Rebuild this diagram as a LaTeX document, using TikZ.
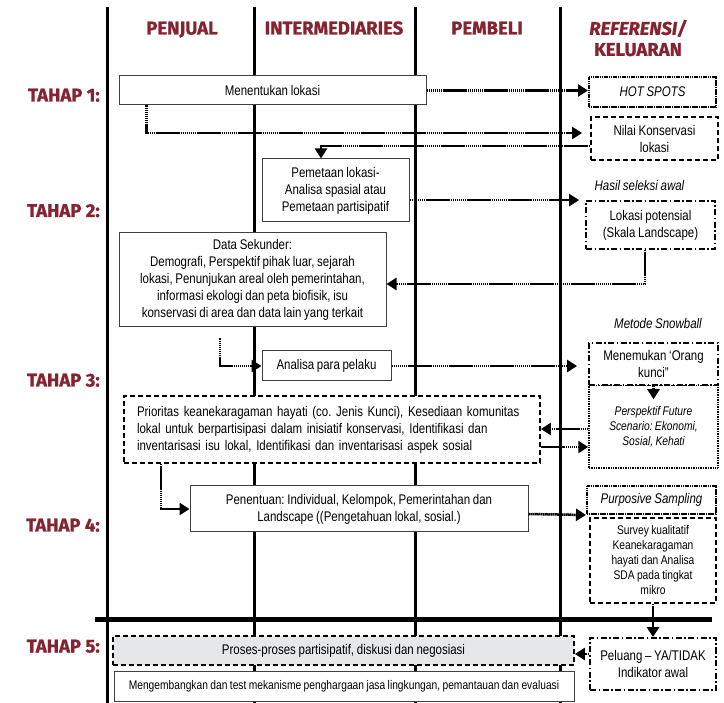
\documentclass[tikz,border=0pt]{standalone}
\usepackage{fontspec}
\setmainfont{Liberation Sans}[FakeStretch=0.82, WordSpace=0.85]
\newfontfamily\headfont{Fira Sans}[FakeBold=1]
\usetikzlibrary{calc, positioning, arrows.meta}
\definecolor{stagered}{HTML}{862330}
\definecolor{shade}{HTML}{E6E7E8}
\def\boxfont{\fontsize{14}{17}\selectfont}
\def\smallfont{\fontsize{12.5}{15}\selectfont}
\tikzstyle{lane}=[line width=3pt]
\tikzstyle{stage}=[font=\headfont\bfseries\fontsize{18.5}{21}\selectfont, text=stagered, inner sep=0pt]
\tikzstyle{note}=[font=\boxfont\itshape, inner sep=0pt]
\tikzstyle{box}=[draw=black!75, line width=1pt, fill=white, align=center, inner sep=0pt, font=\boxfont]
\tikzstyle{dotted box}=[box, draw=black, line width=2pt, dash pattern=on 1.3pt off 0.5pt]
\tikzstyle{fine box}=[box, draw=black, line width=1.5pt, dash pattern=on 1pt off 0.7pt]
\tikzstyle{dashed box}=[box, draw=black, line width=1.8pt, dash pattern=on 5pt off 3pt]
\tikzstyle{dashdot box}=[box, draw=black, line width=1.8pt, dash pattern=on 6pt off 2.5pt on 1.5pt off 2.5pt]
\tikzstyle{flow arrow}=[line width=2.5pt, dash pattern=on 1.6pt off 0.45pt, -{Triangle[length=10pt,width=12pt]}]

\begin{document}
\frenchspacing
\begin{tikzpicture}[x=1pt, y=-1pt]
\useasboundingbox (0,0) rectangle (724,703);

			% Draw the lane lines
			\foreach \x in {107,254,415,560}
			\draw[lane] (\x,7) -- (\x,703);
			\draw[line width=5pt] (95,620) -- (712,620);

			% Column headings
			\foreach \name/\x in {PENJUAL/182, INTERMEDIARIES/334, PEMBELI/487}
			\node[stage, anchor=base] (H-\name) at (\x,34.5) {\name};
			\node[stage, align=center] (H-REF) at (638,38) {\textit{REFERENSI/}\\KELUARAN};

			% Stage labels
			\foreach \n/\y in {1/101.5,2/217,3/386.5,4/531.5,5/652.5}
			\node[stage, anchor=base east] (T-\n) at (100,\y) {TAHAP \n:};

			% Stage 1
			\node[box, minimum width=307, minimum height=29] (loc) at (272.5,90.5) {Menentukan lokasi};
			\node[dotted box, minimum width=127, minimum height=30, font=\boxfont\itshape] (hot) at (652.5,92) {HOT SPOTS};
			\node[dashed box, minimum width=127, minimum height=43] (nilai) at (654.5,138.5) {Nilai Konservasi\\lokasi};

			% Stage 2
			\node[box, minimum width=147, minimum height=63] (pem) at (335.5,190.5) {Pemetaan lokasi-\\Analisa spasial atau\\Pemetaan partisipatif};
			\node[dashdot box, minimum width=129, minimum height=48] (pot) at (650.5,225) {Lokasi potensial\\(Skala Landscape)};
			\node[note, above=9pt of pot, xshift=-11pt] (hasil) {Hasil seleksi awal};
			\node[box, minimum width=267, minimum height=94] (dsek) at (252.5,280) {Data Sekunder:\\Demografi, Perspektif pihak luar, sejarah\\lokasi, Penunjukan areal oleh pemerintahan,\\informasi ekologi dan peta biofisik, isu\\konservasi di area dan data lain yang terkait};

			% Stage 3
			\node[box, minimum width=129, minimum height=30] (ana) at (326.5,366) {Analisa para pelaku};
			\node[fine box, minimum width=129, minimum height=83, font=\smallfont\itshape] (per) at (653.5,426.5) {Perspektif Future\\Scenario: Ekonomi,\\Sosial, Kehati};
			\node[dashdot box, minimum width=129, minimum height=42] (men) at (653.5,364) {Menemukan ‘Orang\\kunci”};
			\node[note, above=13pt of men, xshift=4.5pt] (snow) {Metode Snowball};
			\node[dashed box, text width=390, minimum height=67, align=left, inner xsep=13] (pri) at (332,429.5) {Prioritas keanekaragaman hayati (co. Jenis Kunci), Kesediaan komunitas\\lokal untuk berpartisipasi dalam inisiatif konservasi, Identifikasi dan\\inventarisasi isu lokal, Identifikasi dan inventarisasi aspek sosial};

			% Stage 4
			\node[box, minimum width=338, minimum height=46] (pen) at (359,509) {Penentuan: Individual, Kelompok, Pemerintahan dan\\Landscape ((Pengetahuan lokal, sosial.)};
			\node[dotted box, minimum width=129, minimum height=28, font=\boxfont\itshape] (pur) at (651.5,500) {Purposive Sampling};
			\node[dashed box, minimum width=126, minimum height=85, font=\smallfont] (sur) at (653,560.5) {Survey kualitatif\\Keanekaragaman\\hayati dan Analisa\\SDA pada tingkat\\mikro};

			% Stage 5
			\node[dashed box, fill=shade, minimum width=461, minimum height=29] (pro) at (343.5,650.5) {Proses-proses partisipatif, diskusi dan negosiasi};
			\node[box, minimum width=460, minimum height=30, font=\smallfont] (dev) at (344,686) {Mengembangkan dan test mekanisme penghargaan jasa lingkungan, pemantauan dan evaluasi};
			\node[dashdot box, minimum width=126, minimum height=52, font=\fontsize{14}{17}\selectfont] (pel) at (653,664) {Peluang – YA/TIDAK\\Indikator awal};

			% Connect the boxes
			\draw[flow arrow] (loc.east) -- (loc.east -| hot.west);
			\draw[flow arrow, shorten >=8pt] ([xshift=28pt]loc.south west) |- ([yshift=5.5pt]nilai.west);
			\draw[flow arrow] ([yshift=-7.5pt]nilai.west) -| ([xshift=-14.5pt]pem.north);
			\draw[flow arrow, shorten >=6pt] (pem.east |- pot.north) -- (pot.north west);
			\draw[flow arrow] ([xshift=-5.5pt]pot.south) |- ([yshift=-4pt]dsek.east);
			\draw[flow arrow, shorten <=11pt] ([xshift=-32.5pt]dsek.south) |- (ana.west);
			\draw[flow arrow, shorten >=11pt] (ana.east) -- (ana.east -| men.west);
			\draw[flow arrow] (men.south) -- ([yshift=-15pt]per.north);
			\coordinate (per-out) at ([yshift=-2.5pt]per.west);
			\coordinate (per-in) at ([yshift=-20.5pt]per.west);
			\draw[flow arrow] (per-out) -- (per-out -| pri.east);
			\draw[flow arrow] (per-in -| pri.east) -- (per-in);
			\draw[flow arrow] ([xshift=-171pt]pri.south) |- (pen.west);
			\draw[flow arrow] ([yshift=-5pt]pen.east) -- (pur.south west);
			\draw[flow arrow] (sur.south) -- (pel.north);
			\coordinate (pel-out) at ([yshift=10pt]pel.west);
			\draw[flow arrow] (pel-out) -- (pel-out -| pro.east);
\end{tikzpicture}
\end{document}
